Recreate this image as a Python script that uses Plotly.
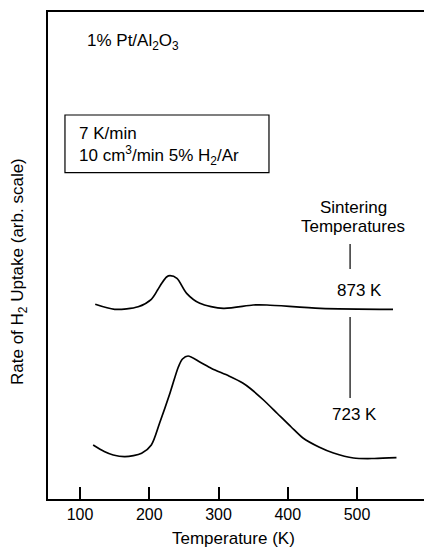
import plotly.graph_objects as go

# 723 K sintered sample
t_723 = [119, 135, 148, 165, 189, 203, 215, 230, 242, 248, 256, 273, 290, 315, 335, 346,
         365, 385, 405, 422, 445, 466, 495, 525, 557]
r_723 = [54, 47.5, 44, 42.3, 45.7, 54, 76, 106, 132, 140, 143, 137, 130.5, 123, 116, 110.5,
         99, 85.5, 72, 61, 52, 46, 41, 40.5, 41.3]

# 873 K sintered sample
t_873 = [122, 150, 184, 203, 212, 218, 225, 230, 240, 254, 273, 307, 350, 370, 447, 552]
r_873 = [194.7, 189.7, 192.3, 199.7, 209, 215.7, 222, 223.3, 220.7, 205.7, 195.7, 190.7,
         194, 194, 190.7, 189.7]

x_ticks = [100, 200, 300, 400, 500]
x_range = [53.8, 608.3]
y_range = [0, 487]

FONT = "Liberation Sans, Arial, Helvetica, sans-serif"

fig = go.Figure()
for t, r in ((t_873, r_873), (t_723, r_723)):
    fig.add_trace(go.Scatter(x=t, y=r, mode="lines",
                             line=dict(color="black", width=1.7, shape="spline", smoothing=0.8),
                             showlegend=False, hoverinfo="skip"))

# box around experimental conditions
fig.add_shape(type="rect", xref="x", yref="y", x0=78.3, x1=372.9, y0=326.3, y1=384,
              line=dict(color="black", width=1.2), fillcolor="rgba(0,0,0,0)")
# label leader lines
fig.add_shape(type="line", xref="x", yref="y", x0=490, x1=490, y0=230, y1=255,
              line=dict(color="black", width=1.2))
fig.add_shape(type="line", xref="x", yref="y", x0=490, x1=490, y0=101, y1=182,
              line=dict(color="black", width=1.2))

ann_font = dict(family=FONT, size=17, color="black")
anns = [
    dict(x=107.2, y=457, text="1% Pt/Al<sub>2</sub>O<sub>3</sub>", xanchor="left"),
    dict(x=96.1, y=366, text="7 K/min", xanchor="left"),
    dict(x=96.1, y=344, text="10 cm<sup>3</sup>/min 5% H<sub>2</sub>/Ar", xanchor="left"),
    dict(x=494.6, y=292, text="Sintering", xanchor="center"),
    dict(x=493.5, y=273, text="Temperatures", xanchor="center"),
    dict(x=503.9, y=209, text="873 K", xanchor="center"),
    dict(x=497, y=85, text="723 K", xanchor="center"),
]
for a in anns:
    fig.add_annotation(xref="x", yref="y", showarrow=False, font=ann_font,
                       yanchor="middle", **a)

# axis titles
fig.add_annotation(xref="paper", yref="paper", x=(233 - 48) / 384, y=(499 - 538) / 487,
                   text="Temperature (K)", showarrow=False, xanchor="center", yanchor="middle",
                   font=ann_font)
fig.add_annotation(xref="paper", yref="paper", x=(19 - 48) / 384, y=(499 - 272) / 487,
                   text="Rate of H<sub>2</sub> Uptake (arb. scale)", textangle=-90,
                   showarrow=False, xanchor="center", yanchor="middle", font=ann_font)

# page body has an 8 px margin, so the figure is 8 px smaller and offset accordingly
fig.update_layout(
    width=424, height=539,
    margin=dict(l=40, r=0, t=4, b=48),
    plot_bgcolor="white", paper_bgcolor="white",
    font=dict(family=FONT, color="black"),
    xaxis=dict(range=x_range, tickvals=x_ticks, ticktext=[str(v) for v in x_ticks],
               ticks="inside", ticklen=12, tickwidth=1.5, tickcolor="black",
               showline=True, linecolor="black", linewidth=1.8, mirror=True,
               showgrid=False, zeroline=False, tickfont=dict(size=16, family=FONT)),
    yaxis=dict(range=y_range, showticklabels=False, ticks="", showline=True,
               linecolor="black", linewidth=1.8, showgrid=False, zeroline=False),
)

fig.write_html("out.html")
